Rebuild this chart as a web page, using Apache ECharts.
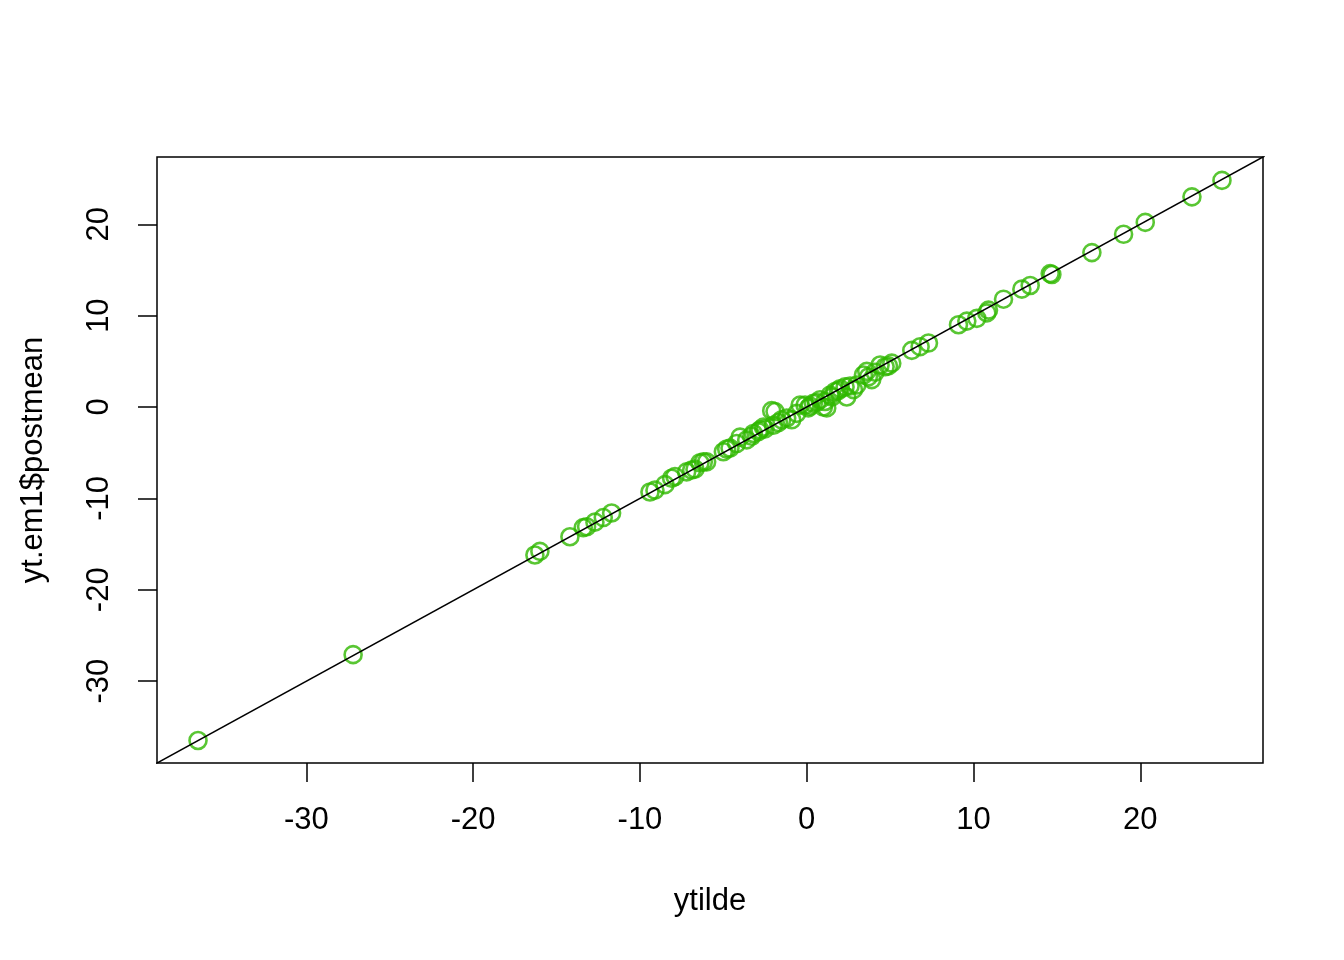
<!DOCTYPE html>
<html>
<head>
<meta charset="utf-8">
<script src="https://cdn.jsdelivr.net/npm/echarts@6/dist/echarts.min.js"></script>
<style>html,body{margin:0;padding:0;background:#fff;}#c{width:1344px;height:960px;}</style>
</head>
<body>
<div id="c"></div>
<script>
var ytilde = [-36.5,-27.2,-16.3,-16.0,-14.2,-13.4,-13.2,-12.7,-12.2,-11.7,
  -9.4,-9.1,-8.5,-8.1,-7.9,-7.2,-6.9,-6.7,-6.4,-6.2,-6.0,-5.0,-4.8,-4.6,-4.2,-4.0,
  -3.6,-3.3,-3.2,-2.9,-2.8,-2.6,-2.5,-2.1,-1.9,-2.0,-1.7,-1.5,-1.2,-0.9,-0.6,-0.4,
  -0.1,0.1,0.2,0.4,0.6,0.8,1.0,1.2,1.1,1.4,1.5,1.7,1.9,2.0,2.3,2.4,2.6,2.8,3.0,
  3.4,3.6,3.7,3.9,4.1,4.4,4.7,5.1,4.9,6.3,6.8,7.3,9.1,9.6,10.2,10.8,10.9,11.8,
  12.9,13.4,14.6,14.7,17.1,19.0,20.3,23.1,24.9];
var postmean = [-36.5,-27.1,-16.2,-15.8,-14.2,-13.2,-13.1,-12.6,-12.1,-11.6,
  -9.3,-9.1,-8.5,-7.8,-7.6,-7.1,-6.9,-6.8,-6.1,-6.0,-6.0,-4.9,-4.6,-4.5,-4.0,-3.3,
  -3.6,-3.2,-2.9,-2.7,-2.5,-2.2,-2.4,-0.4,-0.5,-2.0,-1.7,-1.4,-1.2,-1.4,-0.7,0.2,
  0.2,-0.1,0.1,0.4,0.5,0.8,0.0,-0.1,0.6,1.3,1.1,1.7,1.8,2.0,2.2,1.1,2.3,1.9,2.4,
  3.5,3.9,3.3,3.0,3.8,4.6,4.4,4.8,4.5,6.2,6.6,7.0,9.0,9.4,9.7,10.3,10.6,11.8,
  12.9,13.3,14.6,14.5,16.9,18.9,20.2,23.0,24.8];
var tickValues = [-30,-20,-10,0,10,20];
var axisMin = -38.96, axisMax = 27.36;

var pts = ytilde.map(function(v,i){ return [v, postmean[i]]; });
var chart = echarts.init(document.getElementById('c'), null, {renderer:'canvas'});
var fontFam = '"Liberation Sans", Arial, Helvetica, sans-serif';
chart.setOption({
  animation: false,
  backgroundColor: '#fff',
  grid: {left:157, right:81, top:157, bottom:197, show:true, borderColor:'#000', borderWidth:1.5, backgroundColor:'transparent'},
  xAxis: {
    type:'value', min:axisMin, max:axisMax,
    axisLine:{show:false, onZero:false},
    splitLine:{show:false},
    axisTick:{show:true, inside:false, customValues:tickValues, length:19, lineStyle:{color:'#000', width:1.5}},
    axisLabel:{customValues:tickValues, margin:42, color:'#000', fontSize:31, fontFamily:fontFam}
  },
  yAxis: {
    type:'value', min:axisMin, max:axisMax,
    axisLine:{show:false, onZero:false},
    splitLine:{show:false},
    axisTick:{show:true, inside:false, customValues:tickValues, length:19, lineStyle:{color:'#000', width:1.5}},
    axisLabel:{customValues:tickValues, margin:42, rotate:90, color:'#000', fontSize:31, fontFamily:fontFam}
  },
  graphic: [
    {type:'text', x:710, y:901, style:{text:'ytilde', fill:'#000', font:'31px '+fontFam, align:'center', verticalAlign:'middle'}},
    {type:'text', x:33, y:460, rotation:Math.PI/2, style:{text:'yt.em1$postmean', fill:'#000', font:'31px '+fontFam, align:'center', verticalAlign:'middle'}}
  ],
  series: [
    {type:'scatter', data:pts, symbol:'circle', symbolSize:17,
     itemStyle:{color:'transparent', borderColor:'#30b800', borderWidth:2.6}, z:3},
    {type:'line', data:[[-60,-60],[60,60]], symbol:'none', clip:true,
     lineStyle:{color:'#000', width:1.6}, z:4}
  ]
});
</script>
</body>
</html>
